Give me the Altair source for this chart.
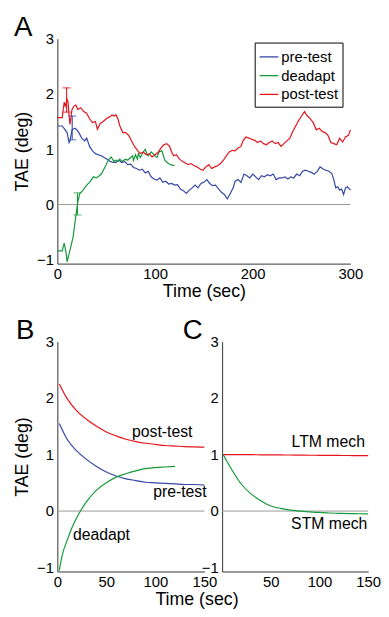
import altair as alt
import pandas as pd

# ---------------- Panel A data ----------------
pre_t = [0, 5, 8, 10, 12, 13, 15, 18, 20, 22, 25, 28, 30, 33, 36, 39, 42, 45, 48, 51,
         54, 57, 60, 63, 66, 69, 72, 75, 78, 81, 84, 87, 90, 93, 96, 99, 102, 105, 108, 111,
         114, 117, 120, 123, 126, 129, 132, 135, 138, 141, 144, 147, 150, 153, 156, 159, 162, 165, 168, 171,
         174, 177, 180, 182, 185, 188, 191, 194, 197, 200, 203, 206, 209, 212, 215, 218, 221, 224, 227, 230,
         233, 236, 239, 242, 245, 248, 251, 254, 257, 260, 263, 266, 269, 272, 275, 278, 281, 283, 285, 287,
         289, 291, 293, 295, 297, 300]
pre_v = [1.42, 1.42, 1.35, 1.3, 1.12, 1.15, 1.35, 1.38, 1.35, 1.3, 1.2, 1.15, 1.2, 1.05, 0.97, 0.92, 0.9, 0.88, 0.85, 0.82,
         0.78, 0.76, 0.76, 0.8, 0.76, 0.78, 0.72, 0.73, 0.67, 0.65, 0.62, 0.64, 0.57, 0.6, 0.5, 0.46, 0.44, 0.48, 0.4, 0.42,
         0.37, 0.38, 0.35, 0.36, 0.28, 0.25, 0.2, 0.26, 0.3, 0.35, 0.3, 0.38, 0.4, 0.45, 0.38, 0.34, 0.35, 0.28, 0.22, 0.18,
         0.1, 0.2, 0.3, 0.42, 0.45, 0.4, 0.55, 0.52, 0.48, 0.55, 0.5, 0.45, 0.52, 0.5, 0.54, 0.52, 0.55, 0.45, 0.48, 0.48,
         0.5, 0.46, 0.5, 0.48, 0.55, 0.52, 0.6, 0.62, 0.6, 0.58, 0.55, 0.6, 0.68, 0.64, 0.62, 0.6, 0.56, 0.45, 0.3, 0.32,
         0.26, 0.28, 0.18, 0.3, 0.32, 0.26]

dead_t = [0, 5, 7, 9, 10, 13, 16, 19, 21, 23, 26, 28, 30, 33, 35, 37, 40, 43, 45, 48,
          50, 52, 55, 58, 60, 62, 64, 66, 68, 70, 72, 75, 77, 78, 80, 82, 83, 85, 88, 90,
          92, 93, 96, 98, 100, 102, 104, 107, 110, 113, 116, 120]
dead_v = [-0.84, -0.84, -0.7, -0.88, -1.04, -0.82, -0.6, -0.2, 0.05, 0.2, 0.25, 0.3, 0.35, 0.4, 0.45, 0.5, 0.48, 0.52, 0.55, 0.65,
          0.72, 0.8, 0.86, 0.78, 0.8, 0.78, 0.82, 0.78, 0.8, 0.82, 0.8, 0.85, 0.88, 0.8, 0.9, 0.82, 0.92, 0.85, 0.95, 1.0,
          0.9, 0.88, 0.95, 0.92, 0.88, 0.85, 0.95, 0.97, 0.8, 0.75, 0.72, 0.7]

post_t = [0, 5, 7, 8, 10, 11, 12, 13, 15, 17, 19, 21, 24, 27, 30, 33, 36, 39, 41, 44,
          47, 50, 53, 56, 58, 60, 62, 64, 67, 70, 73, 76, 79, 82, 85, 88, 91, 94, 97, 100,
          103, 106, 109, 112, 115, 117, 119, 122, 125, 128, 131, 134, 137, 140, 143, 146, 149, 152, 155, 158,
          161, 164, 167, 170, 173, 176, 179, 182, 185, 188, 190, 193, 196, 199, 202, 205, 208, 211, 214, 217,
          220, 223, 226, 229, 232, 235, 238, 241, 244, 247, 250, 253, 256, 259, 262, 265, 268, 271, 274, 277,
          280, 283, 286, 289, 292, 295, 298, 300]
post_v = [1.57, 1.57, 1.85, 1.78, 1.9, 1.85, 1.6, 1.45, 1.72, 1.78, 1.8, 1.72, 1.75, 1.68, 1.65, 1.55, 1.48, 1.5, 1.36, 1.47,
          1.5, 1.55, 1.58, 1.62, 1.6, 1.62, 1.55, 1.42, 1.3, 1.3, 1.25, 1.15, 1.05, 0.98, 0.92, 0.95, 0.9, 0.92, 0.86, 0.9,
          0.94, 1.02, 1.08, 1.1, 1.05, 0.95, 0.88, 0.9, 0.82, 0.78, 0.75, 0.72, 0.74, 0.7, 0.68, 0.64, 0.62, 0.68, 0.72, 0.65,
          0.68, 0.7, 0.74, 0.8, 0.88, 0.95, 0.98, 0.97, 1.02, 1.05, 1.15, 1.22, 1.2, 1.18, 1.16, 1.12, 1.15, 1.1, 1.08, 1.12,
          1.15, 1.1, 1.12, 1.05, 1.1, 1.15, 1.2, 1.32, 1.42, 1.52, 1.6, 1.68, 1.6, 1.55, 1.48, 1.35, 1.38, 1.32, 1.3, 1.25,
          1.12, 1.1, 1.08, 1.2, 1.13, 1.22, 1.25, 1.35]

eb_series = ["post-test", "pre-test", "deadapt"]
eb_t = [9.5, 15.2, 20.6]
eb_lo = [1.67, 1.17, -0.19]
eb_hi = [2.11, 1.60, 0.21]

# ---------------- Panel B data ----------------
b_t = [2, 10, 20, 30, 40, 50, 60, 70, 80, 90, 100, 110, 120, 130, 140, 150]
b_post = [2.25, 1.99, 1.77, 1.62, 1.5, 1.4, 1.33, 1.27, 1.23, 1.2, 1.18, 1.16, 1.15, 1.14, 1.135, 1.13]
b_pre = [1.55, 1.27, 1.06, 0.91, 0.79, 0.69, 0.62, 0.57, 0.54, 0.51, 0.5, 0.49, 0.48, 0.47, 0.47, 0.46]
b_dead_t = [2, 5, 10, 15, 20, 25, 30, 40, 50, 60, 70, 80, 90, 100, 110, 120]
b_dead = [-1.05, -0.78, -0.52, -0.29, -0.11, 0.04, 0.17, 0.37, 0.5, 0.6, 0.66, 0.71, 0.75, 0.77, 0.78, 0.79]
b_labels = ["post-test", "pre-test", "deadapt"]
b_label_t = [107, 125, 45]
b_label_v = [1.4, 0.33, -0.43]

# ---------------- Panel C data ----------------
c_t = [1, 10, 20, 30, 40, 50, 60, 70, 80, 90, 100, 110, 120, 130, 140, 150]
c_ltm = [1.0, 1.0, 0.999, 0.998, 0.996, 0.995, 0.993, 0.992, 0.99, 0.988, 0.987, 0.985, 0.984, 0.983, 0.981, 0.98]
c_stm = [1.0, 0.73, 0.47, 0.3, 0.18, 0.09, 0.047, 0.017, 0.0, -0.015, -0.025, -0.035, -0.04, -0.045, -0.048, -0.05]
c_labels = ["LTM mech", "STM mech"]
c_label_t = [109, 110]
c_label_v = [1.22, -0.23]

panel_letters = ["A", "B", "C"]

BLUE = "#3446a6"
GREEN = "#14993b"
RED = "#e5141c"
FONT = "Liberation Sans"
AXC = "#333333"
ZEROC = "#999999"

series_order = ["pre-test", "deadapt", "post-test"]
color_scale = alt.Scale(domain=series_order, range=[BLUE, GREEN, RED])
ydom = [-1.07, 3]


def yaxis(title):
    return alt.Axis(values=[-1, 0, 1, 2, 3], format="d", ticks=False, grid=False,
                    labelFontSize=15, labelPadding=4, domainColor=AXC, labelColor="#000",
                    titleFontSize=18, titleFontWeight="normal", titleColor="#000", titlePadding=5,
                    title=title if title else "")


def xaxis(values, title, **extra):
    kw = dict(values=values, format="d", ticks=False, grid=False,
              labelFontSize=15, labelPadding=3, domainColor=AXC, labelColor="#000",
              titleFontSize=18, titleFontWeight="normal", titleColor="#000", titlePadding=1,
              labelFlush=False)
    kw["title"] = title if title else ""
    kw.update(extra)
    return alt.Axis(**kw)


def letter(txt, dx):
    return alt.Chart(pd.DataFrame({"lab": [txt]})).mark_text(
        fontSize=28, font=FONT, color="#000", align="left", baseline="alphabetic").encode(
        x=alt.value(dx), y=alt.value(-3), text="lab:N")


# ---------------- Panel A ----------------
dfA = pd.concat([
    pd.DataFrame({"t": pre_t, "v": pre_v, "s": "pre-test"}),
    pd.DataFrame({"t": dead_t, "v": dead_v, "s": "deadapt"}),
    pd.DataFrame({"t": post_t, "v": post_v, "s": "post-test"}),
], ignore_index=True)
dfA["o"] = dfA["s"].map({k: i for i, k in enumerate(series_order)})

xA = alt.Scale(domain=[0, 300], nice=False)
yS = alt.Scale(domain=ydom, nice=False, zero=False)

zeroA = alt.Chart(pd.DataFrame({"z": [0]})).mark_rule(color=ZEROC, strokeWidth=1).encode(
    x=alt.datum(0, scale=xA, axis=xaxis([0, 100, 200, 300], "Time (sec)")),
    x2=alt.datum(300),
    y=alt.datum(0, scale=yS, axis=yaxis("TAE (deg)")),
)

linesA = alt.Chart(dfA).mark_line(strokeWidth=1.2).encode(
    x=alt.X("t:Q", scale=xA),
    y=alt.Y("v:Q", scale=yS),
    color=alt.Color("s:N", scale=color_scale, sort=series_order,
                    legend=alt.Legend(title=None, orient="none", legendX=200, legendY=4,
                                      symbolType="stroke", symbolSize=361, symbolStrokeWidth=1.3,
                                      labelFontSize=15, labelFont=FONT, labelColor="#000",
                                      strokeColor="#000", fillColor="white", padding=4,
                                      rowPadding=0, labelOffset=2, cornerRadius=0,
                                      direction="vertical")),
    detail="s:N",
    order="o:Q",
)

dfE = pd.DataFrame({"s": eb_series, "t": eb_t, "lo": eb_lo, "hi": eb_hi})
ebRule = alt.Chart(dfE).mark_rule(strokeWidth=1.1).encode(
    x=alt.X("t:Q", scale=xA), y=alt.Y("lo:Q", scale=yS), y2="hi:Q",
    color=alt.Color("s:N", scale=color_scale, legend=None),
)
ebLo = alt.Chart(dfE).mark_tick(orient="horizontal", size=8, thickness=1.1).encode(
    x=alt.X("t:Q", scale=xA), y=alt.Y("lo:Q", scale=yS),
    color=alt.Color("s:N", scale=color_scale, legend=None),
)
ebHi = alt.Chart(dfE).mark_tick(orient="horizontal", size=8, thickness=1.1).encode(
    x=alt.X("t:Q", scale=xA), y=alt.Y("hi:Q", scale=yS),
    color=alt.Color("s:N", scale=color_scale, legend=None),
)

panelA = alt.layer(zeroA, linesA, ebRule, ebLo, ebHi, letter(panel_letters[0], -44)).properties(
    width=297, height=228)

# ---------------- Panel B ----------------
xB = alt.Scale(domain=[0, 150], nice=False)

zeroB = alt.Chart(pd.DataFrame({"z": [0]})).mark_rule(color=ZEROC, strokeWidth=1).encode(
    x=alt.datum(0, scale=xB, axis=xaxis([0, 50, 100, 150], "Time (sec)", titleX=141,
                                         titleAlign="center")),
    x2=alt.datum(150),
    y=alt.datum(0, scale=yS, axis=yaxis("TAE (deg)")),
)


def curve(ts, vs, color, xs):
    return alt.Chart(pd.DataFrame({"t": ts, "v": vs})).mark_line(
        color=color, strokeWidth=1.2, interpolate="monotone").encode(
        x=alt.X("t:Q", scale=xs), y=alt.Y("v:Q", scale=yS))


labB = alt.Chart(pd.DataFrame({"lab": b_labels, "t": b_label_t, "v": b_label_v})).mark_text(
    fontSize=16, font=FONT, color="#000", align="center", baseline="middle").encode(
    x=alt.X("t:Q", scale=xB), y=alt.Y("v:Q", scale=yS), text="lab:N")

panelB = alt.layer(
    zeroB,
    curve(b_t, b_post, RED, xB),
    curve(b_t, b_pre, BLUE, xB),
    curve(b_dead_t, b_dead, GREEN, xB),
    labB,
    letter(panel_letters[1], -42),
).properties(width=149, height=233)

# ---------------- Panel C ----------------
zeroC = alt.Chart(pd.DataFrame({"z": [0]})).mark_rule(color=ZEROC, strokeWidth=1).encode(
    x=alt.datum(0, scale=xB, axis=xaxis([0, 50, 100, 150], None,
                                         labelExpr="datum.value == 0 ? '' : datum.label")),
    x2=alt.datum(150),
    y=alt.datum(0, scale=yS, axis=yaxis(None)),
)

labC = alt.Chart(pd.DataFrame({"lab": c_labels, "t": c_label_t, "v": c_label_v})).mark_text(
    fontSize=16, font=FONT, color="#000", align="center", baseline="middle").encode(
    x=alt.X("t:Q", scale=xB), y=alt.Y("v:Q", scale=yS), text="lab:N")

panelC = alt.layer(
    zeroC,
    curve(c_t, c_ltm, RED, xB),
    curve(c_t, c_stm, GREEN, xB),
    labC,
    letter(panel_letters[2], -40),
).properties(width=148, height=233)

bottom = alt.hconcat(panelB, panelC, spacing=18, bounds="flush")

chart = alt.vconcat(panelA, bottom, spacing=79, bounds="flush").properties(
    padding={"left": 5, "top": 2, "right": 0, "bottom": 0}
).configure_view(stroke=None).configure_axis(
    labelFont=FONT, titleFont=FONT
).configure_text(font=FONT).configure_legend(labelFont=FONT)

chart.save("out.html", embed_options={"renderer": "svg", "actions": False})
